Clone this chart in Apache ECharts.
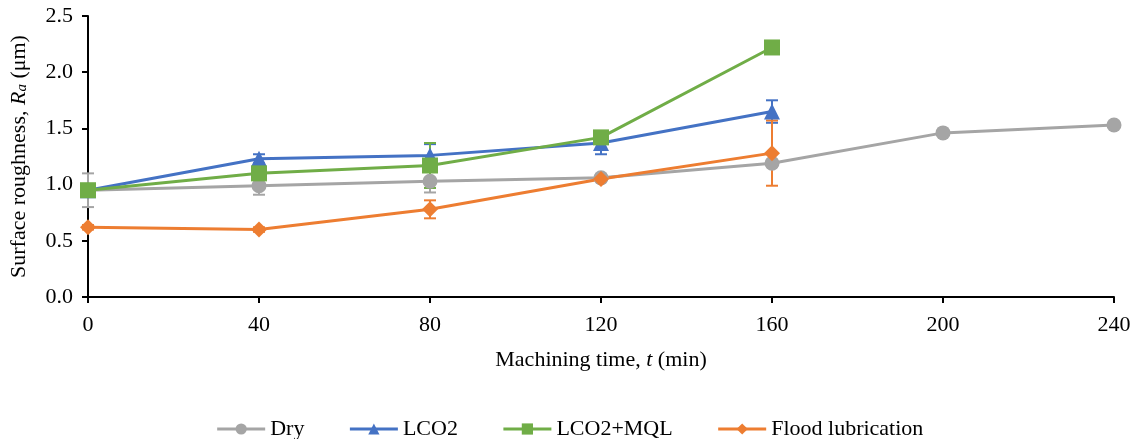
<!DOCTYPE html>
<html>
<head>
<meta charset="utf-8">
<script src="https://cdn.jsdelivr.net/npm/echarts@6/dist/echarts.min.js"></script>
<style>
  html, body { margin: 0; padding: 0; background: #fff; }
  #chart { width: 1139px; height: 439px; }
</style>
</head>
<body>
<div id="chart"></div>
<script>
// machining time (min)
const times = [0, 40, 80, 120, 160, 200, 240];

const dry = [0.95, 0.99, 1.03, 1.06, 1.19, 1.46, 1.53];
const dryErr = [0.15, 0.08, 0.10, 0.03, 0.03, 0.02, 0.02];

const lco2 = [0.95, 1.23, 1.26, 1.37, 1.65];
const lco2Err = [0.03, 0.04, 0.10, 0.10, 0.10];

const lco2Mql = [0.95, 1.10, 1.17, 1.42, 2.22];
const lco2MqlErr = [0.03, 0.03, 0.20, 0.03, 0.03];

const flood = [0.62, 0.60, 0.78, 1.05, 1.28];
const floodErr = [0.02, 0.02, 0.08, 0.02, 0.29];

const colors = ['#A5A5A5', '#4472C4', '#70AD47', '#ED7D31'];
const serif = 'Liberation Serif';

function pairs(vals) {
  return vals.map((v, i) => [times[i], v]);
}

function errData(vals, errs) {
  return vals.map((v, i) => [times[i], v - errs[i], v + errs[i]]);
}

function errSeries(vals, errs, color) {
  return {
    type: 'custom',
    data: errData(vals, errs),
    z: 1,
    silent: true,
    renderItem(params, api) {
      const x = api.value(0);
      const lo = api.coord([x, api.value(1)]);
      const hi = api.coord([x, api.value(2)]);
      const w = 6;
      const st = { stroke: color, lineWidth: 2 };
      return {
        type: 'group',
        children: [
          { type: 'line', shape: { x1: lo[0], y1: lo[1], x2: hi[0], y2: hi[1] }, style: st },
          { type: 'line', shape: { x1: lo[0] - w, y1: lo[1], x2: lo[0] + w, y2: lo[1] }, style: st },
          { type: 'line', shape: { x1: hi[0] - w, y1: hi[1], x2: hi[0] + w, y2: hi[1] }, style: st }
        ]
      };
    }
  };
}

function lineSeries(name, vals, color, symbol, size) {
  return {
    name: name,
    type: 'line',
    data: pairs(vals),
    symbol: symbol,
    symbolSize: size,
    z: 3,
    lineStyle: { color: color, width: 3 },
    itemStyle: { color: color },
    emphasis: { disabled: true }
  };
}

const chart = echarts.init(document.getElementById('chart'));
const option = {
  animation: false,
  color: colors,
  grid: { left: 87, right: 25, top: 16, bottom: 142 },
  legend: {
    top: 413,
    left: 'center',
    itemWidth: 48,
    itemHeight: 14,
    itemGap: 44,
    lineStyle: { width: 3 },
    textStyle: { fontFamily: serif, fontSize: 22, color: '#000' },
    data: ['Dry', 'LCO2', 'LCO2+MQL', 'Flood lubrication']
  },
  xAxis: {
    type: 'value',
    min: 0,
    max: 240,
    interval: 40,
    name: '{n|Machining time, }{i|t}{n| (min)}',
    nameLocation: 'middle',
    nameGap: 52,
    nameTextStyle: {
      rich: {
        n: { fontFamily: serif, fontSize: 22, color: '#000' },
        i: { fontFamily: serif, fontSize: 22, color: '#000', fontStyle: 'italic' }
      }
    },
    axisLine: { lineStyle: { color: '#000', width: 2 } },
    axisTick: { show: true, length: 6, lineStyle: { color: '#000', width: 2 } },
    axisLabel: { fontFamily: serif, fontSize: 22, color: '#000', margin: 17 },
    splitLine: { show: false }
  },
  yAxis: {
    type: 'value',
    min: 0,
    max: 2.5,
    interval: 0.5,
    name: '{n|Surface roughness, }{i|R}{s|a}{n| (μm)}',
    nameLocation: 'middle',
    nameGap: 58,
    nameRotate: 90,
    nameTextStyle: {
      rich: {
        n: { fontFamily: serif, fontSize: 22, color: '#000' },
        i: { fontFamily: serif, fontSize: 22, color: '#000', fontStyle: 'italic' },
        s: { fontFamily: serif, fontSize: 15, color: '#000', fontStyle: 'italic', verticalAlign: 'bottom', padding: [7, 0, 0, 0] }
      }
    },
    axisLine: { show: true, lineStyle: { color: '#000', width: 2 } },
    axisTick: { show: true, length: 6, lineStyle: { color: '#000', width: 2 } },
    axisLabel: {
      fontFamily: serif, fontSize: 22, color: '#000', margin: 15,
      formatter: v => v.toFixed(1)
    },
    splitLine: { show: false }
  },
  series: [
    errSeries(dry, dryErr, colors[0]),
    errSeries(lco2, lco2Err, colors[1]),
    errSeries(lco2Mql, lco2MqlErr, colors[2]),
    errSeries(flood, floodErr, colors[3]),
    lineSeries('Dry', dry, colors[0], 'circle', 15),
    lineSeries('LCO2', lco2, colors[1], 'triangle', 16),
    lineSeries('LCO2+MQL', lco2Mql, colors[2], 'rect', 16),
    lineSeries('Flood lubrication', flood, colors[3], 'diamond', 16)
  ]
};
chart.setOption(option);
</script>
</body>
</html>
